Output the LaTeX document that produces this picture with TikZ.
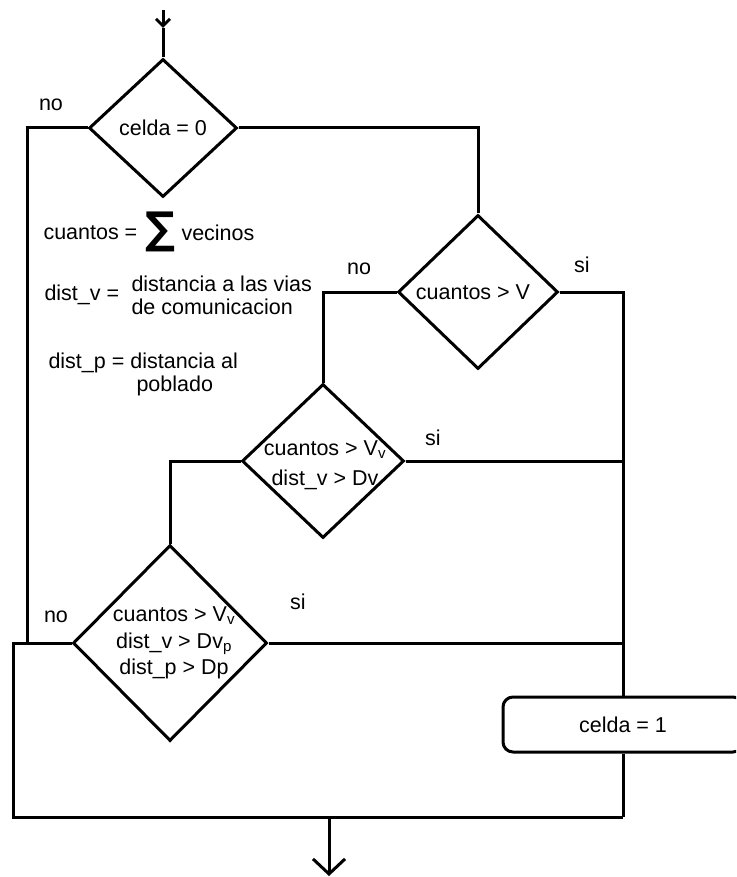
\documentclass[tikz,border=0pt]{standalone}
\usepackage{fontspec}
\usepackage{graphicx}
\setmainfont{Liberation Sans}
\newfontfamily\sigmafont{DejaVu Sans}
\usetikzlibrary{shapes.geometric,arrows.meta}

\tikzset{
  decision/.style={diamond, draw, inner sep=0pt},
  proceso/.style={draw, rounded corners=10pt, minimum width=240pt, minimum height=55pt, inner sep=0pt},
  txt/.style={inner sep=0pt}
}

\begin{document}
\begin{tikzpicture}[x=1pt, y=-1pt, line width=3pt, font=\fontsize{21.5}{26.5}\selectfont, >={Straight Barb[length=15pt,width=32pt]}]
	\useasboundingbox (0,0) rectangle (736,877);
	\clip (0,0) rectangle (736,877);

	% decisiones
	\node[decision, minimum width=148pt, minimum height=138pt] (d1) at (163,128) {};
	\node[decision, minimum width=160pt, minimum height=154pt] (d2) at (478,292) {};
	\node[decision, minimum width=162pt, minimum height=154pt] (d3) at (323,461) {};
	\node[decision, minimum width=194pt, minimum height=196pt] (d4) at (170,643) {};
	\node[proceso] (box) at (623,724.5) {};

	\node[txt] (t1) at (d1) {celda = 0};
	\node[txt] (t2) at (473,292) {cuantos > V};
	\node[txt, align=center, font=\fontsize{21.5}{30}\selectfont] (t3) at (325,465) {cuantos > V\textsubscript{v}\\dist\_v > Dv};
	\node[txt, align=center] (t4) at (174,643) {cuantos > V\textsubscript{v}\\dist\_v > Dv\textsubscript{p}\\dist\_p > Dp};
	\node[txt] (t5) at (box) {celda = 1};

	% definiciones
	\node[txt, anchor=west] (cuantos) at (42,233) {cuantos =};
	\node[txt] (sigma) at (160,232) {\resizebox*{30pt}{40pt}{\sigmafont\bfseries ∑}};
	\node[txt, anchor=west] (vecinos) at (180,233) {vecinos};
	\node[txt, anchor=west] (distv) at (43,295) {dist\_v =};
	\node[txt, anchor=west, align=left, font=\fontsize{21.5}{23}\selectfont] (distvtxt) at (130,295) {distancia a las vias\\de comunicacion};
	\node[txt, anchor=west] (distp) at (47,363) {dist\_p = distancia al};
	\node[txt, anchor=west] (poblado) at (135,386) {poblado};

	% etiquetas
	\node (no1) at (51,105) {no};
	\node (no2) at (359,269) {no};
	\node (si2) at (582,265) {si};
	\node (si3) at (433,438) {si};
	\node (no4) at (56,617) {no};
	\node (si4) at (298,602) {si};

	% conexiones
	\coordinate (in) at (163,10);
	\coordinate (inTip) at (163,28);
	\coordinate (nojoin) at (27,645);
	\coordinate (bl) at (13,817);
	\coordinate (br) at (623,817);
	\coordinate (out) at (329,876);

	\draw[-{Straight Barb[length=7pt,width=14pt]}] (in) -- (inTip);
	\draw (inTip) -- (d1.north);
	\draw (d1.east) -| (d2.north);
	\draw (d1.west) -| (nojoin);
	\draw (d2.west) -| (d3.north);
	\draw (d2.east) -| (box.north);
	\draw (d3.west) -| (d4.north);
	\draw (d3.east) -- (d3.east -| box.north);
	\draw (d4.east) -- (d4.east -| box.north);
	\draw (d4.west) -| (bl) -- (br);
	\draw (box.south) -- (br);
	\draw[->] (out |- br) -- (out);
\end{tikzpicture}
\end{document}
